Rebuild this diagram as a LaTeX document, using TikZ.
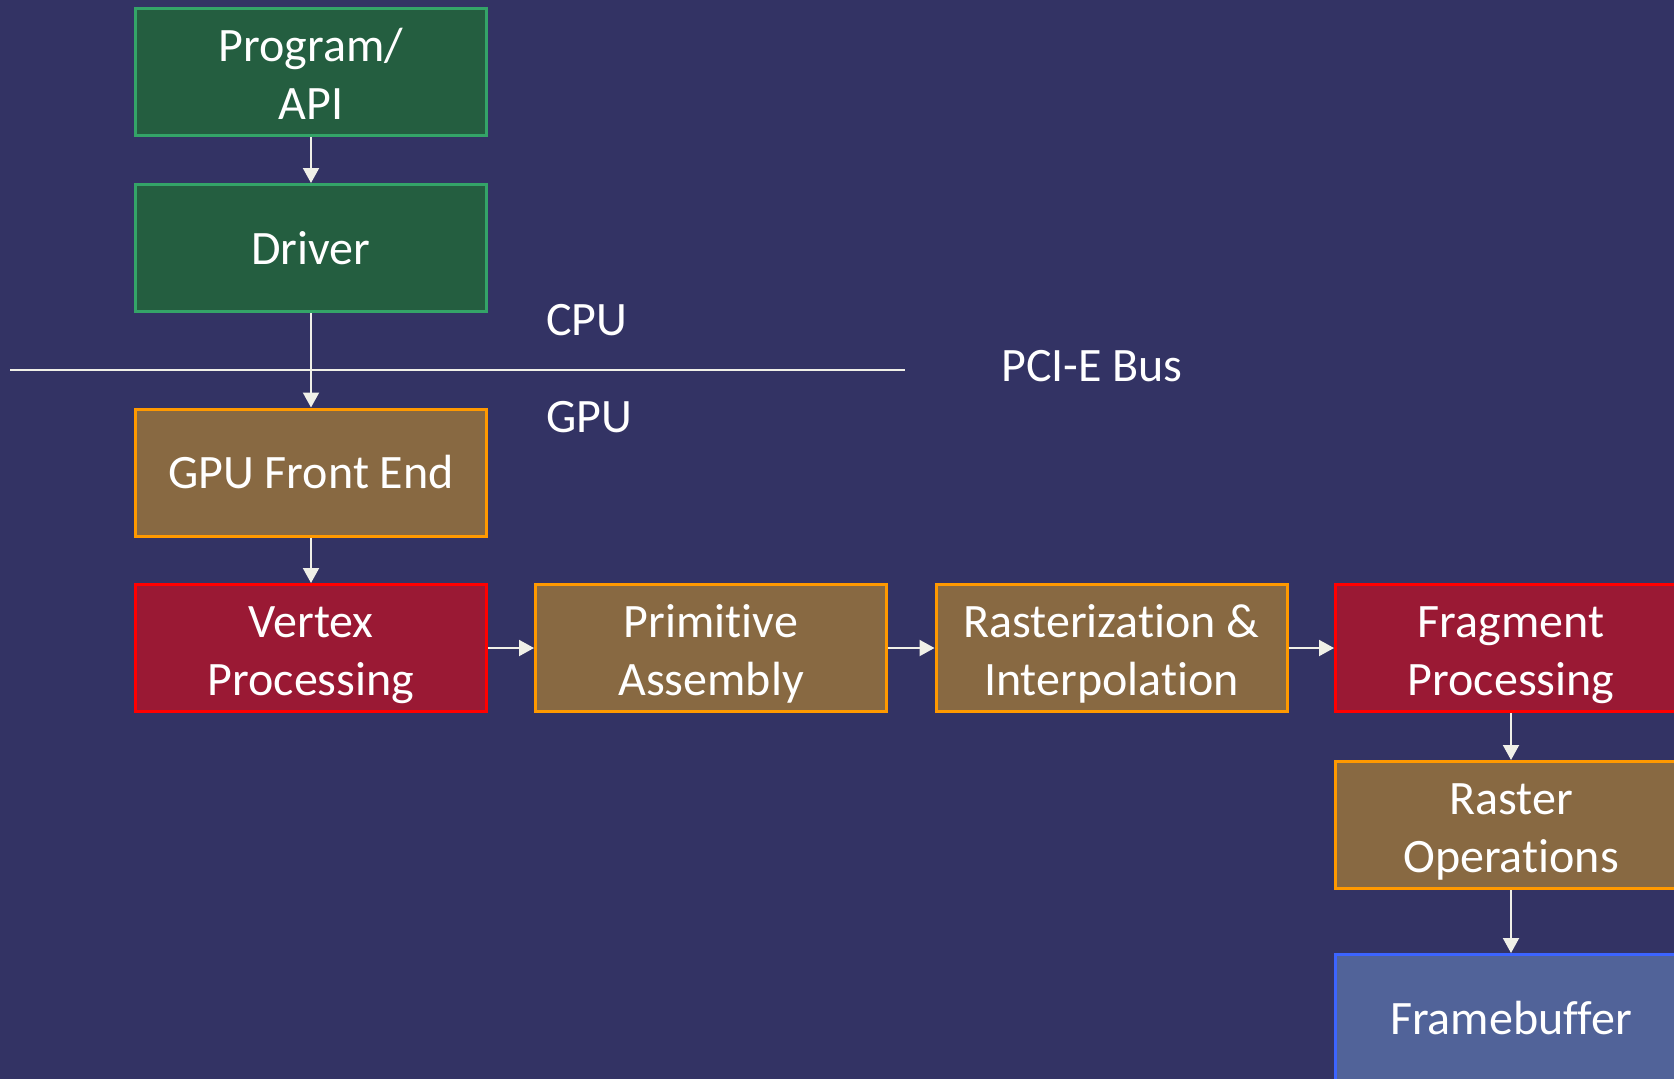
\documentclass[tikz,border=0pt]{standalone}
\usepackage{fontspec}
\setmainfont[RawFeature={-liga;-clig;-dlig}]{Carlito}
\usetikzlibrary{arrows.meta}
\definecolor{bgc}{RGB}{51,51,100}
\definecolor{grfill}{RGB}{36,94,64}
\definecolor{grdraw}{RGB}{52,164,104}
\definecolor{brfill}{RGB}{136,105,66}
\definecolor{brdraw}{RGB}{255,153,0}
\definecolor{rdfill}{RGB}{154,25,52}
\definecolor{rddraw}{RGB}{255,0,0}
\definecolor{blfill}{RGB}{81,99,153}
\definecolor{bldraw}{RGB}{60,100,255}
\definecolor{arrc}{RGB}{240,240,232}
\newcommand\boxone[1]{\rule[-12pt]{0pt}{56pt}#1}
\newcommand\boxtwo[2]{\rule{0pt}{48pt}#1\\#2\rule[-12pt]{0pt}{12pt}}
\tikzset{
  box/.style={rectangle, line width=3pt, minimum width=351pt, minimum height=127pt,
    text=white, align=center, inner sep=0pt,
    font=\fontsize{48pt}{58pt}\selectfont},
  greenbox/.style={box, fill=grfill, draw=grdraw},
  brownbox/.style={box, fill=brfill, draw=brdraw},
  redbox/.style={box, fill=rdfill, draw=rddraw},
  bluebox/.style={box, fill=blfill, draw=bldraw},
  flow/.style={draw=arrc, line width=2pt, -{Triangle[length=15pt,width=16pt]}},
  lbl/.style={text=white, inner sep=0pt, anchor=base west,
    font=\fontsize{48pt}{58pt}\selectfont}
}
\begin{document}
\begin{tikzpicture}[x=1pt,y=-1pt]
\fill[bgc] (0,0) rectangle (1674,1079);
\useasboundingbox (0,0) rectangle (1674,1079);

\node[greenbox] (prog) at (311,72) {\boxtwo{Program/}{API}};
\node[greenbox] (drv) at (311,248) {\boxone{Driver}};
\node[brownbox] (fe) at (311,472.5) {\boxone{GPU Front End}};
\node[redbox] (vtx) at (311,648) {\boxtwo{Vertex}{Processing}};
\node[brownbox] (prim) at (711,648) {\boxtwo{Primitive}{Assembly}};
\node[brownbox] (rast) at (1111.5,648) {\boxtwo{Rasterization \&}{Interpolation}};
\node[redbox] (frag) at (1511,648) {\boxtwo{Fragment}{Processing}};
\node[brownbox] (rop) at (1511,825) {\boxtwo{Raster}{Operations}};
\node[bluebox] (fb) at (1511,1018) {\boxone{Framebuffer}};

\coordinate (busL) at (10,370);
\coordinate (busR) at (905,370);
\draw[draw=arrc, line width=2.5pt] (busL) -- (busR);

\node[lbl] (cpu) at (546,335) {CPU};
\node[lbl] (gpu) at (546,432) {GPU};
\node[lbl] (bus) at (1001,381) {PCI-E Bus};

\draw[flow] (prog) -- (drv);
\draw[flow] (drv) -- (fe);
\draw[flow] (fe) -- (vtx);
\draw[flow] (vtx) -- (prim);
\draw[flow] (prim) -- (rast);
\draw[flow] (rast) -- (frag);
\draw[flow] (frag) -- (rop);
\draw[flow] (rop) -- (fb);
\end{tikzpicture}
\end{document}
